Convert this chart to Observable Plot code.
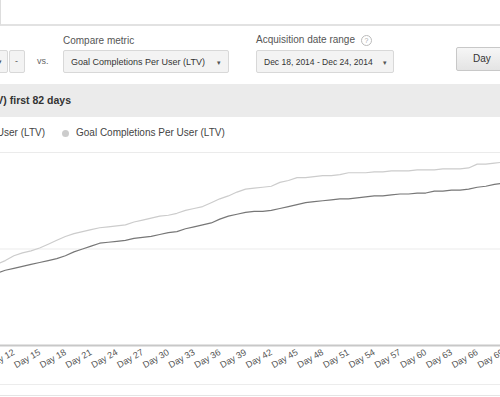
<!DOCTYPE html>
<html><head><meta charset="utf-8">
<script src="https://cdn.jsdelivr.net/npm/d3@7"></script>
<script src="https://cdn.jsdelivr.net/npm/@observablehq/plot@0.6"></script>
<style>
html,body{margin:0;padding:0;background:#fff;}
body{width:500px;height:397px;overflow:hidden;position:relative;font-family:"Liberation Sans",Arial,sans-serif;color:#444;}
.abs{position:absolute;white-space:nowrap;}
.btn{position:absolute;box-sizing:border-box;border:1px solid #d8d8d8;border-radius:2px;background:#f3f3f3;}
.dd{color:#333;line-height:20px;}
.arrow{position:absolute;font-size:7px;color:#555;line-height:8px;}
#chart{position:absolute;left:-100px;top:140px;}
#chart svg{max-width:none !important;}
</style></head>
<body>
<div class="abs" style="left:0;top:-2px;width:520px;height:26px;border-left:1px solid #ddd;border-bottom:2px solid #e2e2e2;"></div>

<div class="abs" style="left:63px;top:35px;font-size:10px;color:#555;">Compare metric</div>
<div class="btn" style="left:-10px;top:50px;width:18px;height:23px;"><span class="arrow" style="left:7px;top:7px;">▾</span></div>
<div class="btn" style="left:9px;top:50px;width:16px;height:23px;"><span class="abs" style="left:5px;top:5px;font-size:9px;color:#555;">-</span></div>
<div class="abs" style="left:37px;top:56px;font-size:9px;color:#666;">vs.</div>
<div class="btn dd" style="left:63px;top:50px;width:166px;height:23px;"><span class="abs" style="left:7px;top:1px;font-size:9px;">Goal Completions Per User (LTV)</span><span class="arrow" style="left:153px;top:8px;">▾</span></div>

<div class="abs" style="left:256px;top:34px;font-size:10px;color:#555;">Acquisition date range</div>
<div class="abs" style="left:361px;top:35px;width:9px;height:9px;border:1px solid #bbb;border-radius:50%;font-size:7px;line-height:9px;text-align:center;color:#aaa;">?</div>
<div class="btn dd" style="left:256px;top:50px;width:138px;height:23px;"><span class="abs" style="left:7px;top:1px;font-size:8.5px;">Dec 18, 2014 - Dec 24, 2014</span><span class="arrow" style="left:126px;top:8px;">▾</span></div>
<div class="btn" style="left:456px;top:47px;width:60px;height:24px;border-color:#c8c8c8;background:linear-gradient(#f6f6f6,#e4e4e4);"><span class="abs" style="left:16px;top:5px;font-size:10px;color:#333;">Day</span></div>

<div class="abs" style="left:0;top:84px;width:500px;height:33px;background:#ebebeb;"></div>
<div class="abs" id="title" style="right:429px;top:94px;font-size:10.5px;font-weight:bold;color:#333;"></div>

<div id="legend"></div>
<div id="chart"></div>
<div class="abs" style="left:0;top:384px;width:500px;height:0;border-top:1px solid #ececec;"></div>
<div class="abs" style="left:0;top:395px;width:500px;height:0;border-top:1px solid #e4e4e4;"></div>

<script>
const titleText = "(LTV) first 82 days";
const seriesNames = ["Per User (LTV)", "Goal Completions Per User (LTV)"];
const seriesColors = ["#777777", "#cccccc"];
const days = d3.range(10, 71);
const primaryValues = [0.75,0.78,0.80,0.82,0.84,0.86,0.88,0.90,0.93,0.97,
1.00,1.03,1.06,1.07,1.08,1.09,1.11,1.12,1.13,1.15,
1.17,1.18,1.21,1.23,1.25,1.27,1.31,1.34,1.36,1.38,
1.39,1.39,1.40,1.42,1.44,1.46,1.48,1.49,1.50,1.51,
1.52,1.52,1.53,1.54,1.55,1.55,1.56,1.57,1.57,1.58,
1.58,1.60,1.60,1.61,1.61,1.62,1.64,1.65,1.67,1.68,1.69];
const goalValues = [0.84,0.88,0.93,0.96,0.98,1.01,1.05,1.09,1.13,1.16,
1.18,1.20,1.22,1.23,1.24,1.25,1.28,1.30,1.32,1.34,
1.35,1.37,1.40,1.42,1.44,1.48,1.52,1.55,1.59,1.62,
1.63,1.64,1.65,1.69,1.71,1.74,1.74,1.75,1.76,1.76,
1.77,1.79,1.79,1.79,1.80,1.80,1.81,1.81,1.81,1.82,
1.82,1.82,1.83,1.83,1.83,1.84,1.88,1.88,1.89,1.90,1.90];
const xTicks = d3.range(3, 82, 3);
const yGrid = [1, 2];

document.getElementById("title").textContent = titleText;
const legend = document.getElementById("legend");
legend.innerHTML =
  `<div class="abs" style="right:455px;top:127px;font-size:10px;color:#444;">${seriesNames[0]}</div>` +
  `<div class="abs" style="left:62px;top:130px;width:7px;height:7px;border-radius:50%;background:${seriesColors[1]};"></div>` +
  `<div class="abs" style="left:76px;top:127px;font-size:10px;color:#444;">${seriesNames[1]}</div>`;

const data = [];
days.forEach((d, i) => {
  data.push({day: d, value: primaryValues[i], series: seriesNames[0]});
  data.push({day: d, value: goalValues[i], series: seriesNames[1]});
});

const chart = Plot.plot({
  width: 734, height: 257,
  marginLeft: 19, marginRight: 20, marginTop: 12, marginBottom: 52,
  style: {fontFamily: "Liberation Sans, Arial, sans-serif", background: "transparent", overflow: "visible", maxWidth: "none"},
  x: {domain: [1, 82], label: null},
  y: {domain: [0, 2], axis: null},
  color: {domain: seriesNames, range: seriesColors},
  marks: [
    Plot.ruleY(yGrid, {stroke: "#ebebeb", strokeWidth: 1}),
    Plot.ruleY([0], {stroke: "#c8c8c8", strokeWidth: 2}),
    Plot.axisX({ticks: xTicks, tickSize: 0, tickPadding: 6, tickRotate: -30, label: null,
      tickFormat: d => "Day " + d, fontSize: 9, fill: "#555", stroke: null}),
    Plot.line(data, {x: "day", y: "value", z: "series", stroke: "series", strokeWidth: 1.2})
  ]
});
document.getElementById("chart").appendChild(chart);
</script>
</body></html>
